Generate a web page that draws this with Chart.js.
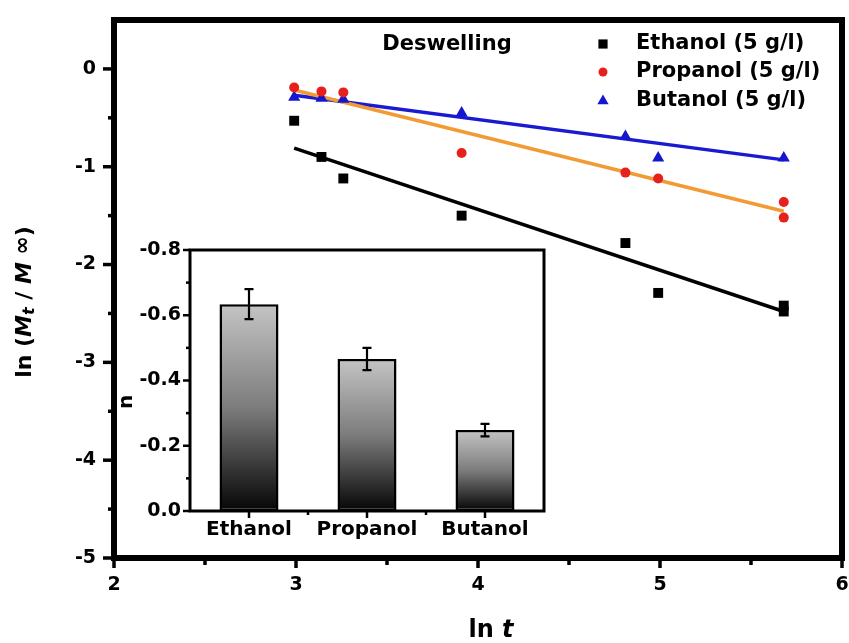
<!DOCTYPE html>
<html><head><meta charset="utf-8">
<script src="https://cdn.jsdelivr.net/npm/chart.js@4.4.1/dist/chart.umd.min.js"></script>
<style>
html,body{margin:0;padding:0;background:#fff;}
#wrap{position:relative;width:849px;height:643px;overflow:hidden;background:#fff;}
#main{position:absolute;left:0;top:0;}
#inset{position:absolute;left:115px;top:235px;}
</style></head><body>
<div id="wrap"><canvas id="main" width="849" height="643"></canvas><canvas id="inset" width="440" height="310"></canvas></div>
<script>
// ---------- data ----------
const ethanolX  = [2.99, 3.14, 3.26, 3.91, 4.81, 4.99, 5.68, 5.68];
const ethanolY  = [-0.53, -0.90, -1.12, -1.50, -1.78, -2.29, -2.42, -2.48];
const propanolX = [2.99, 3.14, 3.26, 3.91, 4.81, 4.99, 5.68, 5.68];
const propanolY = [-0.19, -0.23, -0.24, -0.86, -1.06, -1.12, -1.36, -1.52];
const butanolX  = [2.99, 3.14, 3.26, 3.91, 4.81, 4.99, 5.68];
const butanolY  = [-0.29, -0.30, -0.31, -0.45, -0.69, -0.91, -0.91];
const fitX        = [2.99, 5.68];
const ethanolFit  = [-0.81, -2.48];
const propanolFit = [-0.215, -1.455];
const butanolFit  = [-0.27, -0.93];
const seriesLabels = ['Ethanol (5 g/l)', 'Propanol (5 g/l)', 'Butanol (5 g/l)'];
const xRange = [2, 6];
const yRange = [-5, 0.5];
const annotation = 'Deswelling';

const insetCats = ['Ethanol', 'Propanol', 'Butanol'];
const nValues = [-0.634, -0.466, -0.248];
const nErr    = [0.046, 0.034, 0.019];
const insetRange = [-0.8, 0];

// ---------- helpers ----------
const FONT = '"DejaVu Sans", "Liberation Sans", Arial, sans-serif';
const pts = (xs, ys) => xs.map((x, i) => ({x: x, y: ys[i]}));
const colors = {eth: '#000000', pro: '#e6201b', but: '#1616cf', fitPro: '#f29b35', fitBut: '#1a1ad0'};

function drawMarker(ctx, style, x, y, r, color) {
  ctx.save();
  ctx.fillStyle = color;
  ctx.beginPath();
  if (style === 'rect') {
    const s = r * Math.SQRT1_2;
    ctx.rect(x - s, y - s, 2 * s, 2 * s);
  } else if (style === 'circle') {
    ctx.arc(x, y, r, 0, Math.PI * 2);
  } else if (style === 'triangle') {
    ctx.moveTo(x, y - r);
    ctx.lineTo(x + r * Math.cos(Math.PI / 6), y + r * 0.5);
    ctx.lineTo(x - r * Math.cos(Math.PI / 6), y + r * 0.5);
    ctx.closePath();
  }
  ctx.fill();
  ctx.restore();
}

function drawRich(ctx, parts, cx, cy, rotate) {
  ctx.save();
  ctx.translate(cx, cy);
  if (rotate) ctx.rotate(-Math.PI / 2);
  ctx.textBaseline = 'middle';
  ctx.textAlign = 'left';
  ctx.fillStyle = '#000';
  let total = 0;
  parts.forEach(p => { ctx.font = p.font; p.w = ctx.measureText(p.t).width; total += p.w; });
  let x = -total / 2;
  parts.forEach(p => { ctx.font = p.font; ctx.fillText(p.t, x, p.dy || 0); x += p.w; });
  ctx.restore();
}

// ---------- main chart decorations ----------
const mainDeco = {
  id: 'mainDeco',
  afterDatasetsDraw(c) {
    const ctx = c.ctx, a = c.chartArea, xs = c.scales.x, ys = c.scales.y;
    ctx.save();
    ctx.strokeStyle = '#000';
    ctx.lineCap = 'butt';
    xs.ticks.forEach(t => {
      const px = xs.getPixelForValue(t.value);
      const major = Number.isInteger(t.value);
      ctx.lineWidth = 3.5;
      ctx.beginPath();
      ctx.moveTo(px, a.bottom);
      ctx.lineTo(px, a.bottom + (major ? 10 : 7));
      ctx.stroke();
    });
    ys.ticks.forEach(t => {
      if (t.value > 0) return;
      const py = ys.getPixelForValue(t.value);
      const major = Number.isInteger(t.value);
      ctx.lineWidth = 3.5;
      ctx.beginPath();
      ctx.moveTo(a.left, py);
      ctx.lineTo(a.left - (major ? 11 : 6), py);
      ctx.stroke();
    });
    ctx.lineWidth = 6;
    ctx.strokeRect(a.left, a.top, a.right - a.left, a.bottom - a.top);
    ctx.restore();
  },
  afterDraw(c) {
    const ctx = c.ctx;
    const rows = [44, 72, 101];
    [0, 1, 2].forEach(i => {
      const ds = c.data.datasets[i];
      drawMarker(ctx, ds.pointStyle, 603, rows[i], ds.pointStyle === 'circle' ? 4.5 : 6.5, ds.backgroundColor);
      ctx.save();
      ctx.font = 'bold 21px ' + FONT;
      ctx.fillStyle = '#000';
      ctx.textBaseline = 'middle';
      ctx.textAlign = 'left';
      ctx.fillText(ds.label, 636, rows[i]);
      ctx.restore();
    });
    ctx.save();
    ctx.font = 'bold 21px ' + FONT;
    ctx.fillStyle = '#000';
    ctx.textBaseline = 'middle';
    ctx.textAlign = 'center';
    ctx.fillText(annotation, 447, 45);
    ctx.restore();
    const b = 'bold 22px ' + FONT, bi = 'italic bold 22px ' + FONT, sub = 'italic bold 16px ' + FONT;
    drawRich(ctx, [
      {t: 'ln (', font: b}, {t: 'M', font: bi}, {t: 't', font: sub, dy: 5},
      {t: ' / ', font: b}, {t: 'M', font: bi}, {t: ' \u221E', font: b, dy: -2}, {t: ')', font: b}
    ], 25, 302, true);
    drawRich(ctx, [
      {t: 'ln ', font: 'bold 24px ' + FONT}, {t: 't', font: 'italic bold 24px ' + FONT}
    ], 491, 631, false);
  }
};

const tickFont = {family: FONT, weight: 'bold', size: 19};

new Chart(document.getElementById('main'), {
  type: 'scatter',
  data: {
    datasets: [
      {label: seriesLabels[0], data: pts(ethanolX, ethanolY), pointStyle: 'rect', pointRadius: 7,
       backgroundColor: colors.eth, borderColor: colors.eth, borderWidth: 0, order: 1},
      {label: seriesLabels[1], data: pts(propanolX, propanolY), pointStyle: 'circle', pointRadius: 5,
       backgroundColor: colors.pro, borderColor: colors.pro, borderWidth: 0, order: 1},
      {label: seriesLabels[2], data: pts(butanolX, butanolY), pointStyle: 'triangle', pointRadius: 7,
       backgroundColor: colors.but, borderColor: colors.but, borderWidth: 0, order: 1},
      {type: 'line', label: 'fitE', data: pts(fitX, ethanolFit), borderColor: '#000', borderWidth: 3.5,
       pointRadius: 0, fill: false, order: 2},
      {type: 'line', label: 'fitP', data: pts(fitX, propanolFit), borderColor: colors.fitPro, borderWidth: 3.5,
       pointRadius: 0, fill: false, order: 2},
      {type: 'line', label: 'fitB', data: pts(fitX, butanolFit), borderColor: colors.fitBut, borderWidth: 3.5,
       pointRadius: 0, fill: false, order: 2}
    ]
  },
  options: {
    responsive: false, animation: false, events: [],
    layout: {padding: {top: 20, right: 6, left: 0, bottom: 0}},
    plugins: {legend: {display: false}, tooltip: {enabled: false}},
    scales: {
      x: {type: 'linear', min: xRange[0], max: xRange[1],
          ticks: {stepSize: 0.5, autoSkip: false, maxRotation: 0, color: '#000', font: tickFont, padding: 16,
                  callback: v => Number.isInteger(v) ? String(v) : ''},
          grid: {display: false, drawTicks: false}, border: {display: false},
          afterFit: s => { s.height = 85; s.paddingLeft = 0; s.paddingRight = 0; }},
      y: {type: 'linear', min: yRange[0], max: yRange[1],
          ticks: {stepSize: 0.5, autoSkip: false, color: '#000', font: tickFont, padding: 18,
                  callback: v => Number.isInteger(v) ? String(v) : ''},
          grid: {display: false, drawTicks: false}, border: {display: false},
          afterFit: s => { s.width = 114; s.paddingTop = 0; s.paddingBottom = 0; }}
    }
  },
  plugins: [mainDeco]
});

// ---------- inset bar chart ----------
const insetDeco = {
  id: 'insetDeco',
  afterDatasetsDraw(c) {
    const ctx = c.ctx, a = c.chartArea, xs = c.scales.x, ys = c.scales.y;
    ctx.save();
    ctx.strokeStyle = '#000';
    const meta = c.getDatasetMeta(0);
    meta.data.forEach((bar, i) => {
      const v = nValues[i], e = nErr[i];
      const y1 = ys.getPixelForValue(v - e), y2 = ys.getPixelForValue(v + e);
      ctx.lineWidth = 2.2;
      ctx.beginPath();
      ctx.moveTo(bar.x, y1); ctx.lineTo(bar.x, y2);
      ctx.moveTo(bar.x - 4.5, y1); ctx.lineTo(bar.x + 4.5, y1);
      ctx.moveTo(bar.x - 4.5, y2); ctx.lineTo(bar.x + 4.5, y2);
      ctx.stroke();
    });
    ctx.lineWidth = 2.5;
    const yt = ys.ticks.map(t => t.value);
    yt.forEach((v, i) => {
      const py = ys.getPixelForValue(v);
      ctx.beginPath(); ctx.moveTo(a.left, py); ctx.lineTo(a.left - 7, py); ctx.stroke();
      if (i < yt.length - 1) {
        const pm = (py + ys.getPixelForValue(yt[i + 1])) / 2;
        ctx.beginPath(); ctx.moveTo(a.left, pm); ctx.lineTo(a.left - 4, pm); ctx.stroke();
      }
    });
    const n = c.data.labels.length;
    const step = (a.right - a.left) / n;
    for (let i = 0; i < n; i++) {
      const px = xs.getPixelForValue(i);
      ctx.beginPath(); ctx.moveTo(px, a.bottom); ctx.lineTo(px, a.bottom + 7); ctx.stroke();
      if (i > 0) {
        const pb = px - step / 2;
        ctx.beginPath(); ctx.moveTo(pb, a.bottom); ctx.lineTo(pb, a.bottom + 4); ctx.stroke();
      }
    }
    ctx.lineWidth = 3;
    ctx.strokeRect(a.left, a.top, a.right - a.left, a.bottom - a.top);
    ctx.restore();
    ctx.save();
    ctx.translate(12, 167);
    ctx.rotate(-Math.PI / 2);
    ctx.font = 'bold 20px ' + FONT;
    ctx.fillStyle = '#000';
    ctx.textAlign = 'center';
    ctx.textBaseline = 'middle';
    ctx.fillText('n', 0, 0);
    ctx.restore();
  }
};

function barGradient(context) {
  const chart = context.chart;
  if (!chart.chartArea || !chart.scales.y) return '#888';
  const ys = chart.scales.y;
  const top = ys.getPixelForValue(nValues[context.dataIndex]);
  const bottom = ys.getPixelForValue(0);
  const g = chart.ctx.createLinearGradient(0, top, 0, bottom);
  g.addColorStop(0, '#c4c4c4');
  g.addColorStop(0.5, '#7c7c7c');
  g.addColorStop(1, '#050505');
  return g;
}

new Chart(document.getElementById('inset'), {
  type: 'bar',
  data: {
    labels: insetCats,
    datasets: [{data: nValues, backgroundColor: barGradient, borderColor: '#000', borderWidth: 2.5,
                borderSkipped: false, barPercentage: 0.5, categoryPercentage: 1}]
  },
  options: {
    responsive: false, animation: false, events: [],
    layout: {padding: {top: 15, right: 11, left: 0, bottom: 0}},
    plugins: {legend: {display: false}, tooltip: {enabled: false}},
    scales: {
      x: {ticks: {color: '#000', font: {family: FONT, weight: 'bold', size: 20}, padding: 7, maxRotation: 0},
          grid: {display: false, drawTicks: false}, border: {display: false},
          afterFit: s => { s.height = 34; s.paddingLeft = 0; s.paddingRight = 0; }},
      y: {min: insetRange[0], max: insetRange[1], reverse: true,
          ticks: {stepSize: 0.2, color: '#000', font: {family: FONT, weight: 'bold', size: 19}, padding: 9,
                  callback: v => v.toFixed(1)},
          grid: {display: false, drawTicks: false}, border: {display: false},
          afterFit: s => { s.width = 75; s.paddingTop = 0; s.paddingBottom = 0; }}
    }
  },
  plugins: [insetDeco]
});
</script>
</body></html>
